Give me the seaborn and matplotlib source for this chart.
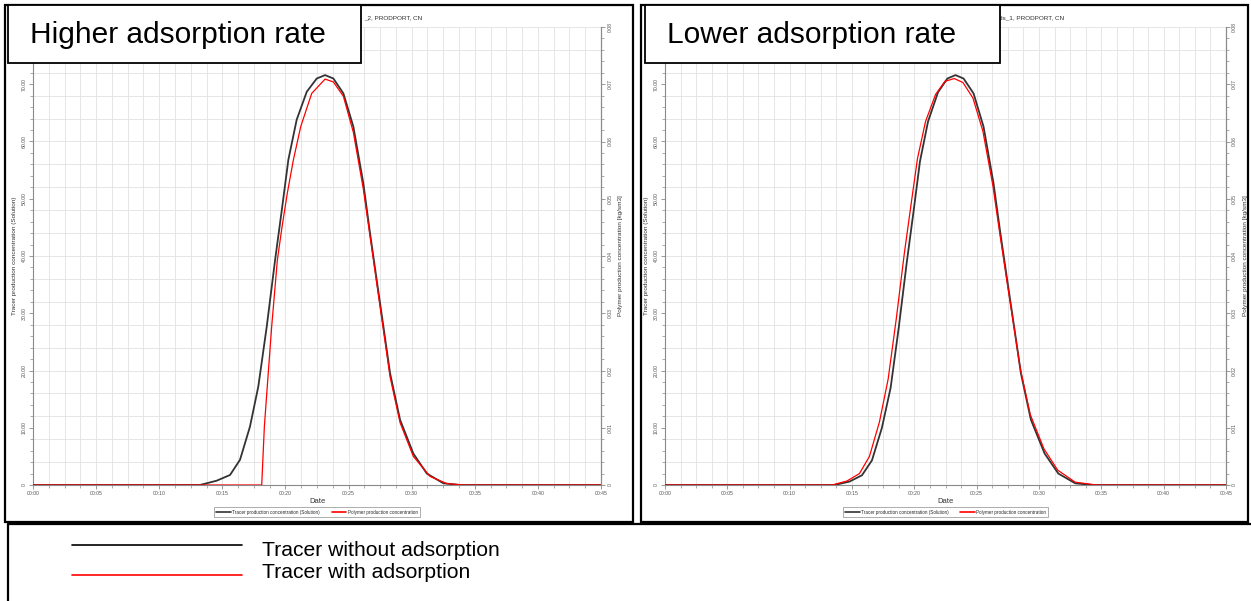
import numpy as np
import pandas as pd
import matplotlib
matplotlib.use("Agg")
import matplotlib.pyplot as plt
from matplotlib.patches import Rectangle
from matplotlib.lines import Line2D
import seaborn as sns

# ---------------- data (minutes, concentration) ----------------
x_tick_labels = ["00:00", "00:05", "00:10", "00:15", "00:20", "00:25", "00:30", "00:35", "00:40", "00:45"]
left_tick_labels = ["0", "10.00", "20.00", "30.00", "40.00", "50.00", "60.00", "70.00"]
right_tick_labels = ["0", "0.01", "0.02", "0.03", "0.04", "0.05", "0.06", "0.07", "0.08"]

series_black = "Tracer production concentration (Solution)"
series_red = "Polymer production concentration"

# Panel 1: higher adsorption rate
hi_black_t = [0, 13.23, 14.55, 15.61, 16.40, 17.19, 17.85, 18.52, 19.18, 19.71, 20.23, 20.89, 21.69,
              22.48, 23.14, 23.80, 24.59, 25.38, 26.17, 26.70, 27.23, 27.76, 28.29, 29.08, 30.13,
              31.20, 32.51, 33.84, 45]
hi_black_v = [0, 0, 0.75, 1.75, 4.4, 10.2, 17.2, 27.7, 39.3, 48.0, 56.8, 63.8, 68.7,
              71.0, 71.6, 71.0, 68.4, 62.6, 52.7, 44.0, 35.8, 27.7, 19.5, 11.4, 5.5,
              2.0, 0.3, 0, 0]
hi_red_t = [0, 18.12, 18.33, 18.52, 18.91, 19.36, 19.73, 20.15, 20.63, 21.21, 22.08, 23.14, 23.80,
            24.59, 25.38, 26.17, 26.70, 27.50, 28.29, 29.08, 30.13, 31.46, 32.78, 34.1, 45]
hi_red_v = [0, 0, 10.2, 16.0, 27.7, 39.3, 45.1, 51.0, 56.8, 62.6, 68.4, 70.9, 70.4,
            67.9, 61.6, 51.7, 43.5, 31.1, 18.9, 10.9, 5.0, 1.5, 0.25, 0, 0]

# Panel 2: lower adsorption rate
lo_black_t = [0, 13.6, 14.8, 15.8, 16.6, 17.4, 18.1, 18.75, 19.4, 19.95, 20.45, 21.1, 21.9, 22.65,
              23.3, 23.95, 24.75, 25.55, 26.35, 26.9, 27.45, 28.0, 28.55, 29.35, 30.45, 31.55,
              32.9, 34.3, 45]
lo_black_v = [0, 0, 0.6, 1.7, 4.3, 10.0, 17.0, 27.5, 39.0, 48.0, 56.5, 63.5, 68.6, 71.0,
              71.6, 71.0, 68.4, 62.6, 52.7, 44.0, 35.8, 27.7, 19.5, 11.4, 5.5, 2.0,
              0.3, 0, 0]
lo_red_t = [0, 13.4, 14.6, 15.6, 16.4, 17.2, 17.9, 18.55, 19.2, 19.75, 20.25, 20.9, 21.7, 22.45,
            23.2, 23.9, 24.7, 25.5, 26.3, 26.85, 27.4, 27.95, 28.5, 29.3, 30.4, 31.5,
            32.9, 34.6, 45]
lo_red_v = [0, 0, 0.7, 2.0, 5.0, 11.0, 18.5, 29.0, 40.5, 49.2, 57.0, 63.5, 68.2, 70.5,
            71.0, 70.3, 67.6, 61.8, 52.3, 44.0, 36.0, 28.2, 20.3, 12.3, 6.3, 2.6,
            0.5, 0, 0]

panel_titles = ["Higher adsorption rate", "Lower adsorption rate"]
well_titles = ["_2, PRODPORT, CN", "ds_1, PRODPORT, CN"]
legend_labels = ["Tracer without adsorption", "Tracer with adsorption"]

# ---------------- figure ----------------
sns.set_style("white")
plt.rcParams["font.family"] = ["Liberation Sans", "DejaVu Sans"]

W, H = 1251, 601
fig = plt.figure(figsize=(W / 100, H / 100), dpi=100)


def fx(x):
    return x / W


def fy(y):
    return 1 - y / H


def rect(x0, y0, x1, y1, lw=1.6, fill=False, z=5):
    r = Rectangle((fx(x0), fy(y1)), fx(x1) - fx(x0), fy(y0) - fy(y1), transform=fig.transFigure,
                  fill=fill, facecolor="white", edgecolor="black", linewidth=lw, zorder=z)
    fig.patches.append(r)


def hline(x0, x1, y, color="black", lw=1.6, z=6):
    fig.lines.append(Line2D([fx(x0), fx(x1)], [fy(y), fy(y)], transform=fig.transFigure,
                            color=color, linewidth=lw, zorder=z))


def vline(x, y0, y1, color="black", lw=1.6, z=6):
    fig.lines.append(Line2D([fx(x), fx(x)], [fy(y0), fy(y1)], transform=fig.transFigure,
                            color=color, linewidth=lw, zorder=z))


panels = [
    dict(x0=33, x1=601, data=(hi_black_t, hi_black_v, hi_red_t, hi_red_v), frame=(5, 5, 633, 522),
         box=(8, 5, 361, 63), wt_x=364),
    dict(x0=665, x1=1226, data=(lo_black_t, lo_black_v, lo_red_t, lo_red_v), frame=(641, 5, 1248, 522),
         box=(645, 5, 1000, 63), wt_x=999),
]

y_top, y_bot = 27, 485
gray = "#8a8a8a"
tick_fs = 3.7

for i, p in enumerate(panels):
    ax = fig.add_axes([fx(p["x0"]), fy(y_bot), fx(p["x1"]) - fx(p["x0"]), fy(y_top) - fy(y_bot)])
    bt, bv, rt, rv = p["data"]
    df_b = pd.DataFrame({"t": bt, "v": bv})
    df_r = pd.DataFrame({"t": rt, "v": rv})
    sns.lineplot(data=df_b, x="t", y="v", ax=ax, color="#333333", linewidth=1.3,
                 estimator=None, sort=False, label=series_black, zorder=3)
    sns.lineplot(data=df_r, x="t", y="v", ax=ax, color="#ff0000", linewidth=0.9,
                 estimator=None, sort=False, label=series_red, zorder=4)
    ax.set_xlim(0, 45)
    ax.set_ylim(0, 80)
    ax.set_xticks(np.arange(0, 46, 5))
    ax.set_xticklabels(x_tick_labels, fontsize=tick_fs, color="#555555")
    ax.set_xticks(np.arange(0, 45.01, 1.25), minor=True)
    ax.set_yticks(np.arange(0, 71, 10))
    ax.set_yticklabels(left_tick_labels, fontsize=tick_fs, color="#555555", rotation=90, va="center")
    ax.set_yticks(np.arange(0, 80.1, 2), minor=True)
    ax.grid(False)
    for gx in np.arange(1.25, 45, 1.25):
        ax.axvline(gx, color="#e2e2e2", linewidth=0.6, zorder=0)
    for gy in np.arange(4, 80.1, 4):
        ax.axhline(gy, color="#e2e2e2", linewidth=0.6, zorder=0)
    ax.tick_params(axis="both", which="major", length=3, width=0.6, color=gray, direction="out", pad=1.5)
    ax.tick_params(axis="both", which="minor", length=2, width=0.5, color=gray, direction="out")
    ax.tick_params(axis="x", which="both", bottom=True)
    ax.tick_params(axis="y", which="both", left=True)
    for s in ["left", "bottom", "right"]:
        ax.spines[s].set_color(gray)
        ax.spines[s].set_linewidth(0.8)
    ax.spines["top"].set_visible(False)
    ax.set_xlabel("Date", fontsize=5.5, color="#333333")
    ax.xaxis.set_label_coords(0.5, -0.028)
    ax.set_ylabel("Tracer production concentration (Solution)", fontsize=4.6, color="#333333")
    ax.yaxis.set_label_coords(-0.029, 0.5)

    ax2 = ax.twinx()
    ax2.set_ylim(0, 0.08)
    ax2.set_yticks(np.linspace(0, 0.08, 9))
    ax2.set_yticklabels(right_tick_labels, fontsize=tick_fs, color="#555555", rotation=90, va="center")
    ax2.set_yticks(np.arange(0, 0.0801, 0.002), minor=True)
    ax2.tick_params(axis="y", which="major", length=3, width=0.6, color=gray, direction="out", pad=1.5)
    ax2.tick_params(axis="y", which="minor", length=2, width=0.5, color=gray, direction="out")
    ax2.tick_params(axis="y", which="both", right=True)
    for s in ["top", "left", "bottom"]:
        ax2.spines[s].set_visible(False)
    ax2.spines["right"].set_color(gray)
    ax2.spines["right"].set_linewidth(0.8)
    ax2.set_ylabel("Polymer production concentration [kg/sm3]", fontsize=4.6, color="#333333")
    ax2.yaxis.set_label_coords(1.03, 0.5)

    leg = ax.legend(loc="center", bbox_to_anchor=(0.5, -0.059), ncol=2, fontsize=3.3,
                    frameon=True, fancybox=False, edgecolor="#888888", handlelength=3.2,
                    columnspacing=2.5, borderpad=0.5, handletextpad=0.3)
    leg.get_frame().set_linewidth(0.6)
    for line in leg.get_lines():
        line.set_linewidth(1.2)

    # outer panel frame
    x0, y0, x1, y1 = p["frame"]
    rect(x0, y0, x1, y1, lw=1.6, z=5)
    # well title (partially hidden)
    fig.text(fx(p["wt_x"]), fy(18), well_titles[i], fontsize=4.6, color="#333333",
             ha="left", va="center", zorder=4)
    # label box
    bx0, by0, bx1, by1 = p["box"]
    rect(bx0, by0, bx1, by1, lw=1.3, fill=True, z=7)
    fig.text(fx(bx0 + 22), fy((by0 + by1) / 2 + 1), panel_titles[i], fontsize=21.5,
             ha="left", va="center", color="black", zorder=8)

# bottom legend box
hline(8, W, 524, lw=1.6)
vline(8, 524, H, lw=1.6)
hline(72, 242, 545, color="black", lw=1.2)
hline(72, 242, 575, color="#ff0000", lw=1.2)
fig.text(fx(262), fy(551), legend_labels[0], fontsize=15.2, ha="left", va="center", color="black")
fig.text(fx(262), fy(573), legend_labels[1], fontsize=15.2, ha="left", va="center", color="black")

fig.savefig("out.png", dpi=100, facecolor="white")
